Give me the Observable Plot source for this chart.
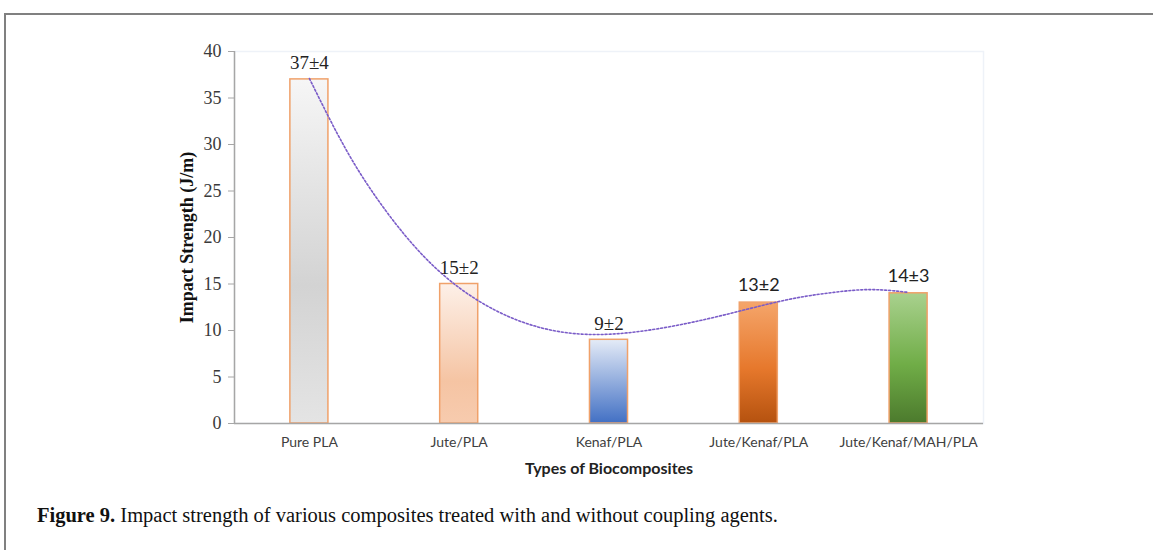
<!DOCTYPE html>
<html>
<head>
<meta charset="utf-8">
<script src="https://cdn.jsdelivr.net/npm/d3@7"></script>
<script src="https://cdn.jsdelivr.net/npm/@observablehq/plot@0.6"></script>
<style>
  html, body { margin: 0; padding: 0; background: #fff; }
  body { width: 1153px; height: 550px; position: relative; overflow: hidden; }
  #frame { position: absolute; left: 4px; top: 13px; right: -4px; bottom: -4px;
           border-top: 2px solid #808080; border-left: 2px solid #808080; }
  #chart { position: absolute; left: 0; top: 14px; }
  #caption { position: absolute; left: 37px; top: 504px; font-family: "Liberation Serif", "DejaVu Serif", serif;
             font-size: 20.5px; color: #111; white-space: nowrap; }
  #caption b { font-weight: bold; }
</style>
</head>
<body>
<div id="frame"></div>
<div id="chart"></div>
<div id="caption"><b>Figure 9.</b> Impact strength of various composites treated with and without coupling agents.</div>
<script>
// ---- data ----
const categories = ["Pure PLA", "Jute/PLA", "Kenaf/PLA", "Jute/Kenaf/PLA", "Jute/Kenaf/MAH/PLA"];
const positions = [1, 2, 3, 4, 5];
const values = [37, 15, 9, 13, 14];
const valueLabels = ["37±4", "15±2", "9±2", "13±2", "14±3"];
// dotted trend line, values at quarter-category steps
const trendPositions = [1, 1.25, 1.5, 1.75, 2, 2.25, 2.5, 2.75, 3, 3.25, 3.5, 3.75, 4, 4.25, 4.5, 4.75, 5];
const trendValues = [37.1, 29.3, 23.1, 18.2, 14.6, 12.1, 10.5, 9.7, 9.6, 10.0, 10.7, 11.6, 12.6, 13.5, 14.1, 14.4, 14.1];
const yTicks = [0, 5, 10, 15, 20, 25, 30, 35, 40];

// ---- styles ----
const gradients = [
  [["0%", "#f6f6f6"], ["60%", "#d3d3d3"], ["100%", "#e4e4e4"]],
  [["0%", "#fdf0e8"], ["70%", "#f5c4a3"], ["100%", "#f7cbae"]],
  [["0%", "#e4ebf7"], ["100%", "#4270c4"]],
  [["0%", "#f5a56a"], ["55%", "#e6782c"], ["100%", "#b5520f"]],
  [["0%", "#a9d18e"], ["55%", "#70ad47"], ["100%", "#4c7a2d"]]
];

const bars = categories.map((c, i) => ({
  cat: c, pos: positions[i], value: values[i], label: valueLabels[i],
  grad: `url(#barGrad${i})`
}));
const trend = trendPositions.map((p, i) => ({pos: p, value: trendValues[i]}));
const halfWidth = 0.127;

const plot = Plot.plot({
  width: 1153,
  height: 466,
  marginLeft: 234,
  marginRight: 170,
  marginTop: 37,
  marginBottom: 57,
  style: {background: "transparent", overflow: "visible"},
  x: {domain: [0.5, 5.5], axis: null},
  y: {domain: [0, 40], axis: null},
  color: {type: "identity"},
  marks: [
    Plot.frame({stroke: "#eef2f8", strokeWidth: 1.5}),
    Plot.rectY(bars, {
      x1: d => d.pos - halfWidth, x2: d => d.pos + halfWidth, y1: 0, y2: "value",
      fill: "grad", stroke: "#f0a16a", strokeWidth: 1.5
    }),
    Plot.ruleX([0.5], {stroke: "#a6a6a6", strokeWidth: 1.5}),
    Plot.ruleY([0], {stroke: "#a6a6a6", strokeWidth: 1.5}),
    Plot.axisY({
      ticks: yTicks, tickSize: 6, tickPadding: 7, stroke: "#a6a6a6",
      fontFamily: "Liberation Serif", fontSize: 18, fill: "#3a3a3a", label: null
    }),
    Plot.axisX({
      ticks: positions, tickFormat: p => categories[p - 1], tickSize: 0, tickPadding: 14,
      fontFamily: "Lato", fontSize: 14, fill: "#404040", label: null
    }),
    Plot.line(trend, {x: "pos", y: "value", curve: "natural", stroke: "#7a5cc8",
      strokeWidth: 1.6, strokeDasharray: "2,2"}),
    Plot.text(bars.slice(0, 3), {x: "pos", y: "value", text: "label", dy: -16,
      fontFamily: "Liberation Serif", fontSize: 19, fill: "#222"}),
    Plot.text(bars.slice(3), {x: "pos", y: "value", text: "label", dy: -17,
      fontFamily: "Lato", fontSize: 18, fill: "#222"}),
    Plot.text(["Impact Strength (J/m)"], {frameAnchor: "left", rotate: -90, dx: -47, textAnchor: "middle",
      fontFamily: "Liberation Serif", fontWeight: "bold", fontSize: 18, fill: "#111"}),
    Plot.text(["Types of Biocomposites"], {frameAnchor: "bottom", dy: 50, textAnchor: "middle",
      fontFamily: "Lato", fontWeight: "bold", fontSize: 16, fill: "#222"})
  ]
});

// gradient definitions
const svg = d3.select(plot);
const defs = svg.insert("defs", ":first-child");
gradients.forEach((stops, i) => {
  const g = defs.append("linearGradient").attr("id", `barGrad${i}`)
    .attr("x1", 0).attr("y1", 0).attr("x2", 0).attr("y2", 1);
  stops.forEach(([o, c]) => g.append("stop").attr("offset", o).attr("stop-color", c));
});
document.getElementById("chart").appendChild(plot);
</script>
</body>
</html>
